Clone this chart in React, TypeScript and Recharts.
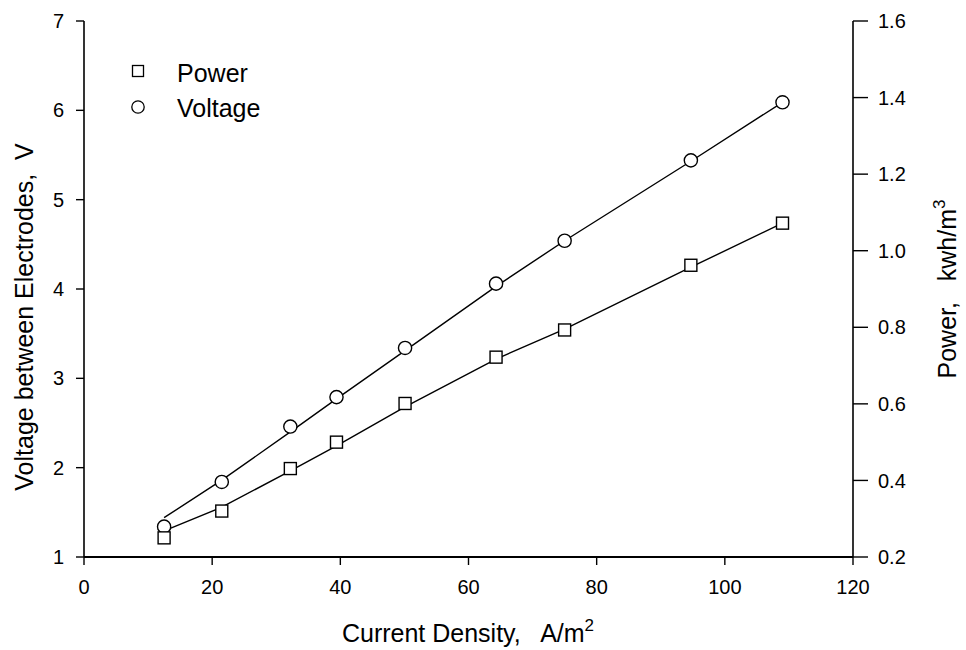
import {ComposedChart, Label, Line, XAxis, YAxis} from "recharts";

const currentDensity = [12.5, 21.5, 32.2, 39.4, 50.1, 64.3, 75.0, 94.7, 109.0];
const voltage = [1.34, 1.84, 2.46, 2.79, 3.34, 4.06, 4.54, 5.44, 6.09];
const voltageFit = [1.44, 1.86, 2.40, 2.77, 3.31, 4.03, 4.54, 5.43, 6.09];
const power = [0.250, 0.320, 0.431, 0.500, 0.601, 0.722, 0.793, 0.962, 1.072];
const powerFit = [0.268, 0.330, 0.425, 0.490, 0.592, 0.717, 0.795, 0.957, 1.072];

const xTicks = [0, 20, 40, 60, 80, 100, 120];
const voltageTicks = [1, 2, 3, 4, 5, 6, 7];
const powerTicks = [0.2, 0.4, 0.6, 0.8, 1.0, 1.2, 1.4, 1.6];

const data = currentDensity.map((x, i) => ({
    x,
    voltage: voltage[i],
    voltageFit: voltageFit[i],
    power: power[i],
    powerFit: powerFit[i],
}));

const font = "'Liberation Sans', Arial, Helvetica, sans-serif";
const TICK_SIZE = 20;

const makeTick = (anchor: "start" | "middle" | "end", dy: string, fmt?: (v: number) => string) =>
    (props: any) => {
        const {x, y, payload} = props;
        const v = payload.value;
        return <text x={x} y={y} dy={dy} textAnchor={anchor} fontSize={TICK_SIZE}
                     fontFamily={font} fill="#000">{fmt ? fmt(v) : String(v)}</text>;
    };

const Square = (props: any) => {
    const {cx, cy, index} = props;
    if (cx == null || cy == null) return null;
    return <rect key={"sq" + index} x={cx - 6} y={cy - 6} width={12} height={12}
                 fill="#fff" stroke="#000" strokeWidth={1.4}/>;
};

const Circle = (props: any) => {
    const {cx, cy, index} = props;
    if (cx == null || cy == null) return null;
    return <circle key={"ci" + index} cx={cx} cy={cy} r={6.6}
                   fill="#fff" stroke="#000" strokeWidth={1.4}/>;
};

// legend drawn as an overlay so it doesn't eat plot space
const LegendBox = () => (
    <svg width={170} height={80} style={{position: "absolute", left: 120, top: 50}}>
        <rect x={12.5} y={15.5} width={11} height={11} fill="#fff" stroke="#000" strokeWidth={1.3}/>
        <text x={57} y={32} fontSize={25} fontFamily={font} fill="#000">Power</text>
        <circle cx={18} cy={57} r={6.2} fill="#fff" stroke="#000" strokeWidth={1.3}/>
        <text x={57} y={67} fontSize={25} fontFamily={font} fill="#000">Voltage</text>
    </svg>
);

const LeftLabel = () => (
    <text x={33} y={317} transform="rotate(-90, 33, 317)" textAnchor="middle"
          fontSize={25} fontFamily={font} fill="#000" style={{whiteSpace: "pre"}}>
        Voltage between Electrodes,  V
    </text>
);

const RightLabel = () => (
    <text x={956} y={289} transform="rotate(-90, 956, 289)" textAnchor="middle"
          fontSize={25} fontFamily={font} fill="#000" style={{whiteSpace: "pre"}}>
        Power,   kwh/m<tspan dy={-11} fontSize={17}>3</tspan>
    </text>
);

const BottomLabel = () => (
    <text x={468} y={642} textAnchor="middle"
          fontSize={25} fontFamily={font} fill="#000" style={{whiteSpace: "pre"}}>
        Current Density,   A/m<tspan dy={-11} fontSize={17}>2</tspan>
    </text>
);

export default function App() {
    return <div style={{position: "absolute", left: 0, top: 0, width: 966, height: 650, background: "#fff"}}>
        <ComposedChart width={966} height={650} data={data}
                       margin={{top: 21, right: 0, bottom: 33, left: 0}}>
            <XAxis dataKey="x" type="number" domain={[0, 120]} ticks={xTicks}
                   allowDataOverflow height={60}
                   tick={makeTick("middle", "0.71em")} tickSize={8} tickMargin={15}
                   axisLine={{stroke: "#000", strokeWidth: 1.8}} tickLine={{stroke: "#000", strokeWidth: 1.4}}>
                <Label content={<BottomLabel/>}/>
            </XAxis>
            <XAxis xAxisId="top" orientation="top" type="number" domain={[0, 120]} height={0}
                   tick={false} tickLine={false} axisLine={{stroke: "#000", strokeWidth: 1.6}}/>
            <YAxis yAxisId="v" type="number" domain={[1, 7]} ticks={voltageTicks}
                   allowDataOverflow width={84}
                   tick={makeTick("end", "0.355em")} tickSize={8} tickMargin={12}
                   axisLine={{stroke: "#000", strokeWidth: 1.6}} tickLine={{stroke: "#000", strokeWidth: 1.4}}>
                <Label content={<LeftLabel/>}/>
            </YAxis>
            <YAxis yAxisId="p" orientation="right" type="number" domain={[0.2, 1.6]} ticks={powerTicks}
                   allowDataOverflow width={113}
                   tick={makeTick("start", "0.355em", (v) => v.toFixed(1))} tickSize={15} tickMargin={10}
                   axisLine={{stroke: "#000", strokeWidth: 1.6}} tickLine={{stroke: "#000", strokeWidth: 1.4}}>
                <Label content={<RightLabel/>}/>
            </YAxis>

            <Line yAxisId="v" dataKey="voltageFit" type="linear" stroke="#000" strokeWidth={1.4}
                  dot={false} activeDot={false} isAnimationActive={false}/>
            <Line yAxisId="p" dataKey="powerFit" type="linear" stroke="#000" strokeWidth={1.4}
                  dot={false} activeDot={false} isAnimationActive={false}/>
            <Line yAxisId="v" dataKey="voltage" stroke="none" dot={Circle} activeDot={false}
                  isAnimationActive={false}/>
            <Line yAxisId="p" dataKey="power" stroke="none" dot={Square} activeDot={false}
                  isAnimationActive={false}/>
        </ComposedChart>
        <LegendBox/>
    </div>;
}
